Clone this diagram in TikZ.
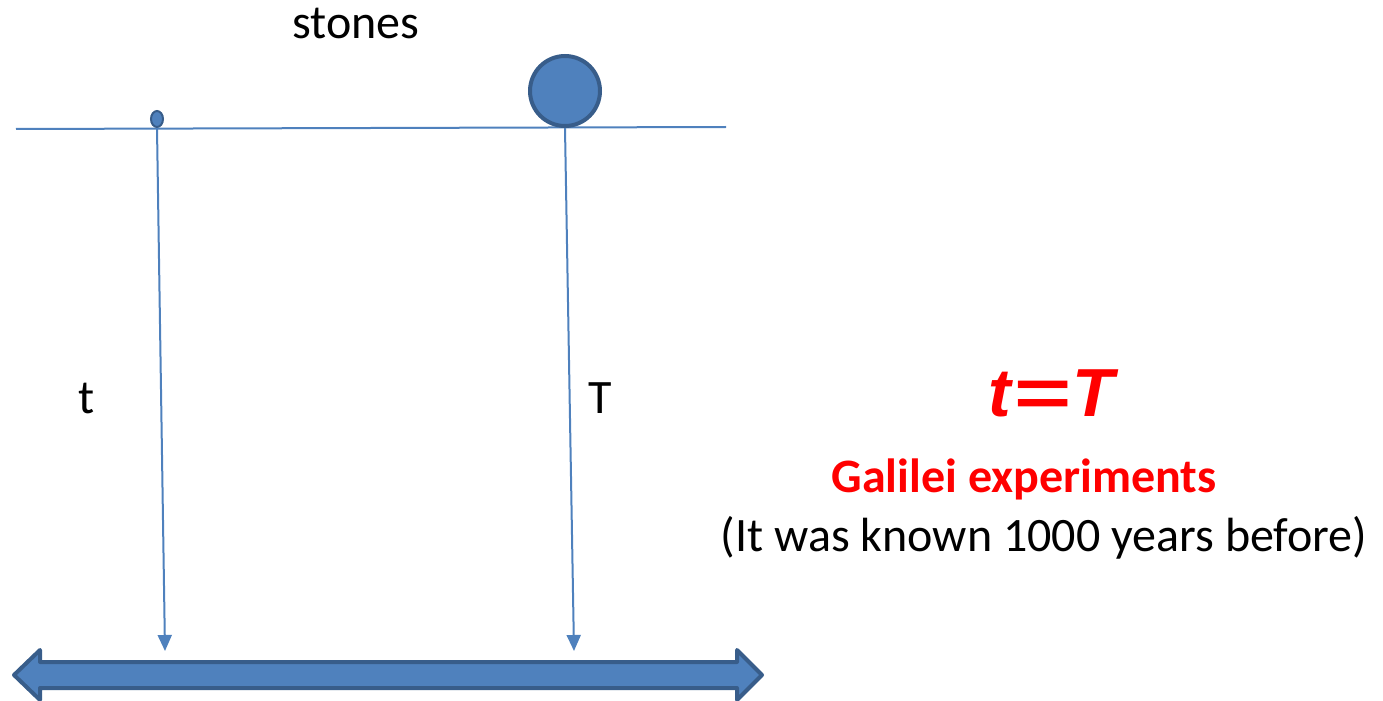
\documentclass[tikz,border=0pt]{standalone}
\usepackage{xcolor}
\usepackage{tikz}
\usepackage{fontspec}
\setmainfont{Carlito}
\newfontfamily\arialfont{Liberation Sans}
\usetikzlibrary{
  arrows.meta,
  shapes,
  shapes.geometric,
  positioning,
  calc
}
\definecolor{stoneFill}{HTML}{4F81BD}
\definecolor{stoneLine}{HTML}{385D8A}
\definecolor{galRed}{HTML}{FF0000}

\begin{document}
\begin{tikzpicture}[x=0.5pt, y=-0.5pt,
  stone/.style={draw=stoneLine, fill=stoneFill, line width=2pt, inner sep=0pt},
  fall/.style={draw=stoneFill, line width=1pt, -{Triangle[length=8pt, width=7pt]}},
  lbl/.style={font=\fontsize{24}{29}\selectfont}]
  \useasboundingbox (0,0) rectangle (1383,701);
  % ground line and stones
  \draw[stoneFill, line width=1pt] (16,129) -- (726,127);
  \node[stone, ellipse, line width=1pt, minimum width=6pt, minimum height=8pt] (small) at (157,119) {};
  \node[stone, circle, minimum size=35pt] (big) at (565,91) {};
  \node[lbl] (stones) at (356,24) {stones};
  % falling paths
  \coordinate (smallEnd) at (165,651);
  \coordinate (bigEnd) at (574,651);
  \draw[fall] (small.south) -- (smallEnd);
  \draw[fall] (big.south) -- (bigEnd);
  \node[lbl] (tLbl) at (87,398) {t};
  \node[lbl] (TLbl) at (600,398) {T};
  % time axis
  \draw[stoneLine, fill=stoneFill, line width=2pt, line join=round]
    (14,675) -- (40,650) -- (40,662) -- (737,662) -- (737,650) -- (762,675)
    -- (737,700) -- (737,688) -- (40,688) -- (40,700) -- cycle;
  % result
  \node[text=galRed, font=\arialfont\fontsize{34}{40}\selectfont\bfseries\itshape] (result) at (1051,393)
    {t\kern1pt\scalebox{1.45}[1]{=}\kern1pt T};
  \node[text=galRed, font=\fontsize{24}{29}\selectfont\bfseries] (galilei) at (1024,479) {Galilei experiments};
  \node[lbl] (known) at (1044,538) {(It was known 1000 years before)};
\end{tikzpicture}
\end{document}
